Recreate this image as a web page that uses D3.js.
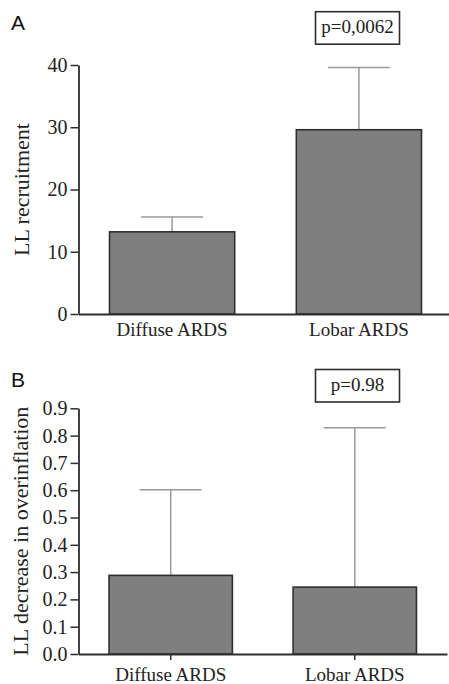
<!DOCTYPE html>
<html>
<head>
<meta charset="utf-8">
<script src="https://cdn.jsdelivr.net/npm/d3@7"></script>
<style>
  html, body { margin: 0; padding: 0; background: #fff; }
  svg { display: block; }
</style>
</head>
<body>
<div id="chart"></div>
<script>
const categories = ['Diffuse ARDS', 'Lobar ARDS'];

// panel A: LL recruitment (mean, upper error)
const recruitMean = [13.2, 29.6];
const recruitErr  = [15.6, 39.6];
const recruitTicks = [0, 10, 20, 30, 40];

// panel B: LL decrease in overinflation
const overMean = [0.288, 0.245];
const overErr  = [0.602, 0.829];
const overTicks = [0, 0.1, 0.2, 0.3, 0.4, 0.5, 0.6, 0.7, 0.8, 0.9];

const BAR   = '#7f7f7f';
const EDGE  = '#2e2e2e';
const WHISK = '#9a9a9a';
const SERIF = '"Liberation Serif", "Times New Roman", serif';

const W = 449, H = 684;
const svg = d3.select('#chart').append('svg')
  .attr('width', W).attr('height', H);

function panel(opt) {
  const g = svg.append('g');
  const x = d3.scaleBand()
    .domain(categories)
    .range(opt.xRange)
    .paddingInner(0.33)
    .paddingOuter(0.166);
  const y = d3.scaleLinear().domain(opt.domain).range(opt.yRange);

  // whiskers (drawn first, bar covers the lower part)
  categories.forEach((c, i) => {
    const cx = x(c) + x.bandwidth() / 2;
    g.append('line')
      .attr('x1', cx).attr('x2', cx)
      .attr('y1', y(opt.mean[i])).attr('y2', y(opt.err[i]))
      .attr('stroke', WHISK).attr('stroke-width', 1.5);
    g.append('line')
      .attr('x1', cx - 31).attr('x2', cx + 31)
      .attr('y1', y(opt.err[i])).attr('y2', y(opt.err[i]))
      .attr('stroke', WHISK).attr('stroke-width', 1.5);
  });

  g.selectAll('.bar')
    .data(categories)
    .join('rect')
    .attr('x', d => x(d))
    .attr('y', (d, i) => y(opt.mean[i]))
    .attr('width', x.bandwidth())
    .attr('height', (d, i) => y(opt.domain[0]) - y(opt.mean[i]))
    .attr('fill', BAR)
    .attr('stroke', EDGE)
    .attr('stroke-width', 1.6);

  // y axis
  const ya = g.append('g')
    .attr('transform', `translate(${opt.xRange[0]},0)`)
    .call(d3.axisLeft(y).tickValues(opt.ticks).tickFormat(opt.fmt).tickSize(8).tickSizeOuter(0));
  ya.select('.domain').attr('stroke', EDGE).attr('stroke-width', 1.8);
  ya.selectAll('.tick line').attr('stroke', EDGE).attr('stroke-width', 1.5);
  ya.selectAll('.tick text')
    .attr('font-family', SERIF).attr('font-size', 20).attr('fill', '#222')
    .attr('x', -11);

  // x axis
  const xa = g.append('g')
    .attr('transform', `translate(0,${opt.yRange[0]})`)
    .call(d3.axisBottom(x).tickSize(opt.xTicks ? 6 : 0).tickSizeOuter(0));
  xa.select('.domain').attr('stroke', EDGE).attr('stroke-width', 1.8);
  xa.selectAll('.tick line').attr('stroke', EDGE).attr('stroke-width', 1.5);
  xa.selectAll('.tick text')
    .attr('font-family', SERIF).attr('font-size', 19).attr('fill', '#222')
    .attr('dy', null).attr('y', opt.labelDy);

  // y title
  g.append('text')
    .attr('transform', `translate(${opt.titleX},${(opt.yRange[0] + opt.yRange[1]) / 2}) rotate(-90)`)
    .attr('text-anchor', 'middle')
    .attr('font-family', SERIF).attr('font-size', 22).attr('fill', '#222')
    .text(opt.title);

  // panel letter
  g.append('text')
    .attr('x', 11).attr('y', opt.letterY)
    .attr('font-family', '"Liberation Sans", Arial, sans-serif').attr('font-size', 21).attr('fill', '#111')
    .text(opt.letter);

  // p-value box
  const bx = 315.5, bw = 84;
  g.append('rect')
    .attr('x', bx).attr('y', opt.boxY).attr('width', bw).attr('height', 32.5)
    .attr('fill', '#fff').attr('stroke', EDGE).attr('stroke-width', 1.6);
  g.append('text')
    .attr('x', bx + bw / 2).attr('y', opt.boxY + 21.5)
    .attr('text-anchor', 'middle')
    .attr('font-family', SERIF).attr('font-size', 19).attr('fill', '#222')
    .text(opt.p);
}

panel({
  domain: [0, 40], yRange: [314, 65], xRange: [78.5, 452.5],
  mean: recruitMean, err: recruitErr, ticks: recruitTicks, fmt: d3.format('d'),
  xTicks: false, labelDy: 22, title: 'LL recruitment', titleX: 29,
  letter: 'A', letterY: 30, boxY: 11.7, p: 'p=0,0062'
});

panel({
  domain: [0, 0.9], yRange: [654, 408.3], xRange: [78.5, 447],
  mean: overMean, err: overErr, ticks: overTicks, fmt: d3.format('.1f'),
  xTicks: true, labelDy: 27, title: 'LL decrease in overinflation', titleX: 28,
  letter: 'B', letterY: 387, boxY: 369.5, p: 'p=0.98'
});
</script>
</body>
</html>
